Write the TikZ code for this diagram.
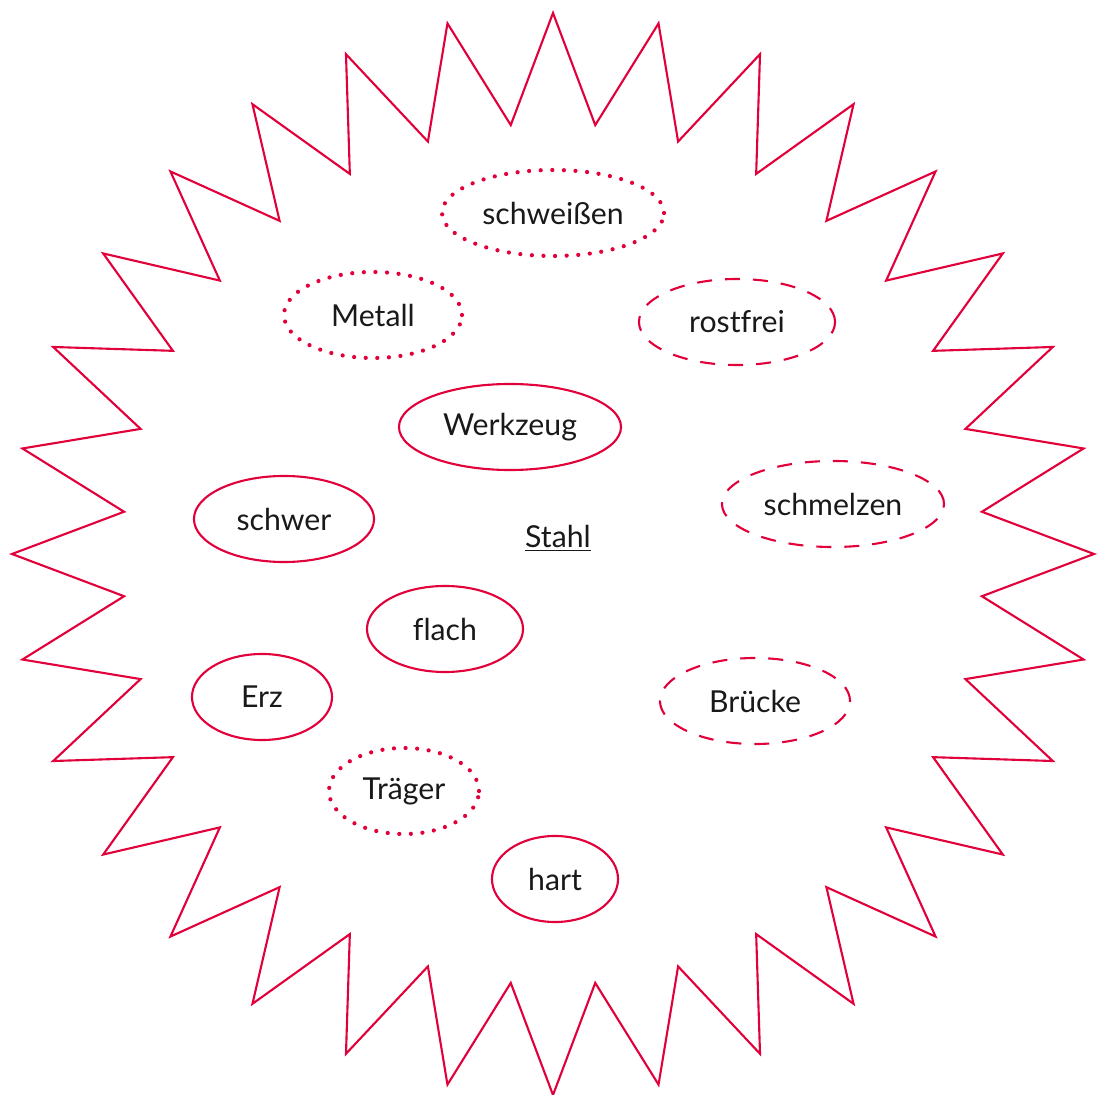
\documentclass[tikz,border=0pt]{standalone}
\usepackage{fontspec}
\setmainfont[Ligatures=NoCommon]{Lato}
\usetikzlibrary{shapes.geometric}
\definecolor{stahlrot}{RGB}{226,0,58}
\begin{document}
\begin{tikzpicture}[x=0.025cm, y=-0.025cm,
  every node/.style={font=\fontsize{21.5}{25}\selectfont, text=black!90},
  word/.style={draw=stahlrot, ellipse, line width=1.5pt, minimum height=2.15cm, inner sep=0pt},
  wdash/.style={word, dash pattern=on 0.375cm off 0.325cm},
  wdot/.style={word, line width=3pt, line cap=round, dash pattern=on 0pt off 0.29cm}]
  \useasboundingbox (0,0) rectangle (1098,1095);

  % Stern
  \draw[stahlrot, line width=1.5pt, line join=miter]
    (553,13) \foreach \i [evaluate=\i as \r using {mod(\i,2)==0 ? 541 : 431}] in {1,...,63} {
      -- ({553+\r*sin(\i*5.625)}, {554-\r*cos(\i*5.625)})
    } -- cycle;

  % Mitte
  \node (stahl) at (558,538) {\underline{Stahl}};

  % gepunktet
  \node[wdot, minimum width=5.55cm] (schweissen) at (553,213) {schweißen};
  \node[wdot, minimum width=4.45cm] (metall) at (373,315) {Metall};
  \node[wdot, minimum width=3.75cm] (traeger) at (404,791) {Träger};

  % gestrichelt
  \node[wdash, minimum width=4.9cm] (rostfrei) at (737,322) {rostfrei};
  \node[wdash, minimum width=5.55cm] (schmelzen) at (833,504) {schmelzen};
  \node[wdash, minimum width=4.75cm] (bruecke) at (755,701) {Brücke};

  % durchgezogen
  \node[word, minimum width=5.55cm] (werkzeug) at (510,427) {Werkzeug};
  \node[word, minimum width=4.5cm] (schwer) at (284,519) {schwer};
  \node[word, minimum width=3.9cm] (flach) at (445,629) {flach};
  \node[word, minimum width=3.5cm] (erz) at (262,697) {Erz};
  \node[word, minimum width=3.15cm] (hart) at (555,879) {hart};
\end{tikzpicture}
\end{document}
